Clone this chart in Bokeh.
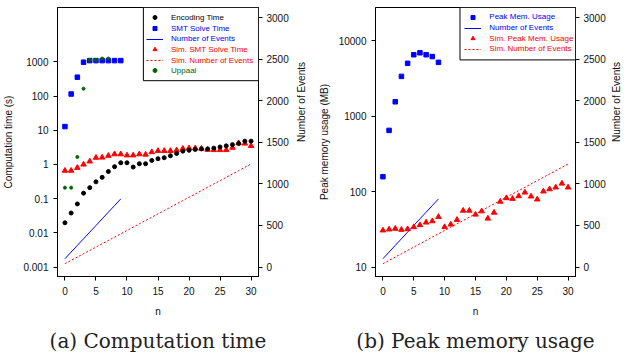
import math
from bokeh.plotting import figure
from bokeh.models import (Range1d, LinearAxis, LinearScale, FixedTicker, PrintfTickFormatter,
                          Legend, LegendItem, BoxAnnotation, Title)
from bokeh.layouts import row
from bokeh.embed import file_html
from bokeh.resources import INLINE

# ---------------- data ----------------
n_all = list(range(31))
n_real = list(range(10))

encoding_time = [0.0197, 0.038, 0.07, 0.145, 0.21, 0.31, 0.42, 0.62, 0.86, 1.12,
                 1.12, 0.84, 1.05, 1.05, 1.31, 1.47, 1.57, 1.8, 2.1, 2.45,
                 2.6, 2.75, 2.85, 2.85, 3.0, 3.25, 3.5, 3.8, 4.1, 4.8, 4.8]
smt_solve_time = [12.8, 115, 357, 980, 1090, 1090, 1090, 1090, 1090, 1090]
num_events = [100, 180, 260, 340, 420, 500, 580, 660, 740, 820]
sim_smt_solve_time = [0.66, 0.66, 0.80, 1.0, 1.23, 1.58, 1.6, 1.8, 2.0, 2.0,
                      1.85, 1.85, 2.0, 1.95, 2.3, 2.5, 2.5, 2.5, 2.6, 2.9,
                      3.0, 3.0, 2.9, 2.7, 2.65, 2.65, 2.65, 3.1, 4.2, 4.1, 3.5]
sim_num_events = [40, 80, 120, 160, 200, 240, 280, 320, 360, 400,
                  440, 480, 520, 560, 600, 640, 680, 720, 760, 800,
                  840, 880, 920, 960, 1000, 1040, 1080, 1120, 1160, 1200, 1240]
uppaal_n = [0, 1, 2, 3, 4, 5, 6, 7]
uppaal_time = [0.21, 0.21, 1.66, 165, 1150, 1150, 1250, 1250]

peak_mem = [158, 648, 1550, 3360, 5000, 6500, 6900, 6500, 6150, 5150]
sim_peak_mem = [30.8, 31.7, 32.4, 31.4, 32.0, 34.1, 36.2, 39.2, 40.8, 46.5,
                34.1, 36.9, 42.5, 56.3, 56.3, 49.9, 55.2, 44.2, 53.0, 74.0,
                82.4, 80.7, 87.5, 97.8, 86.7, 79.2, 101, 108, 114, 128.5, 114]

x_ticks = [0, 5, 10, 15, 20, 25, 30]
time_ticks = [0.001, 0.01, 0.1, 1, 10, 100, 1000]
mem_ticks = [10, 100, 1000, 10000]
event_ticks = [0, 500, 1000, 1500, 2000, 2500, 3000]

SANS = "Liberation Sans"
SERIF = "DejaVu Serif"
GREEN = "darkgreen"

X_RANGE = (-1.2, 31.2)
EV_RANGE = (-114, 3124)
FRAME_H = 272
TOP = 7
BOTTOM = 81


def style_axis(ax):
    ax.axis_line_color = "black"
    ax.major_tick_line_color = "black"
    ax.major_tick_in = 0
    ax.major_tick_out = 4
    ax.minor_tick_line_color = None
    ax.major_label_text_font = SANS
    ax.major_label_text_font_size = "10px"
    ax.major_label_text_color = "#111111"
    ax.axis_label_text_font = SANS
    ax.axis_label_text_font_size = "10px"
    ax.axis_label_text_font_style = "normal"
    ax.axis_label_text_color = "#111111"
    ax.major_label_standoff = 4


def make_fig(width, bl, br, ylog_range, ylabel, yticks, caption, r_standoff):
    p = figure(width=width, height=TOP + FRAME_H + BOTTOM, y_axis_type="log",
               x_range=Range1d(*X_RANGE), y_range=Range1d(*ylog_range),
               output_backend="svg", toolbar_location=None,
               min_border_left=bl, min_border_right=br,
               min_border_top=TOP, min_border_bottom=BOTTOM)
    p.grid.visible = False
    p.outline_line_color = "black"
    p.outline_line_width = 1
    p.background_fill_color = "white"
    p.border_fill_color = "white"
    p.extra_y_ranges = {"ev": Range1d(*EV_RANGE)}
    p.extra_y_scales = {"ev": LinearScale()}
    rax = LinearAxis(y_range_name="ev", axis_label="Number of Events",
                     ticker=FixedTicker(ticks=event_ticks))
    p.add_layout(rax, "right")
    for ax in [p.xaxis[0], p.yaxis[0], rax]:
        style_axis(ax)
    p.xaxis.ticker = FixedTicker(ticks=x_ticks)
    p.xaxis.axis_label = "n"
    p.xaxis.major_label_standoff = 6
    p.xaxis.axis_label_standoff = 8
    p.yaxis[0].ticker = FixedTicker(ticks=yticks)
    p.yaxis[0].formatter = PrintfTickFormatter(format="%g")
    p.yaxis[0].axis_label = ylabel
    p.yaxis[0].major_label_standoff = 5
    p.yaxis[0].axis_label_standoff = 6
    rax.axis_label_standoff = r_standoff
    if "axis_label_orientation" in rax.properties():
        rax.axis_label_orientation = math.pi / 2
    t = Title(text=caption, align="center", text_font=SERIF,
              text_font_size="20px", text_font_style="normal",
              text_color="#222222", standoff=15)
    p.add_layout(t, "below")
    return p


def add_legend(p, entries, ylog_range, frame_w, box_left_px, box_h_px, glyph_x):
    # legend frame box, positioned from pixel offsets inside the plot frame
    x0, x1 = X_RANGE
    lo, hi = math.log10(ylog_range[0]), math.log10(ylog_range[1])
    left = x0 + box_left_px / frame_w * (x1 - x0)
    bottom = 10 ** (hi - box_h_px / FRAME_H * (hi - lo))
    box = BoxAnnotation(left=left, right=x1, bottom=bottom, top=ylog_range[1],
                        fill_color="white", fill_alpha=1.0,
                        line_color="black", line_width=1, line_alpha=1.0)
    p.add_layout(box)
    for label, rends, color, dy in entries:
        lg = Legend(items=[LegendItem(label=label, renderers=rends)],
                    location=(glyph_x, FRAME_H - dy - 5), padding=0, margin=0,
                    spacing=0, glyph_width=17, glyph_height=10, label_height=10,
                    label_standoff=8, border_line_alpha=0,
                    background_fill_alpha=0,
                    label_text_font=SANS, label_text_font_size="8px",
                    label_text_color=color)
        p.add_layout(lg)


# ---------------- panel (a) ----------------
ra = (10 ** -3.277, 10 ** 4.591)
pa = make_fig(315, 55, 54, ra, "Computation time (s)", time_ticks,
              "(a) Computation time", 10)

r_ev = pa.line(n_real, num_events, y_range_name="ev", color="blue", line_width=1)
r_sev = pa.line(n_all, sim_num_events, y_range_name="ev", color="red",
                line_width=1, line_dash="2 2")
r_sim = pa.scatter(n_all, sim_smt_solve_time, marker="triangle", size=5.5,
                   color="red")
r_enc = pa.scatter(n_all, encoding_time, marker="circle", size=4, color="black")
r_smt = pa.scatter(n_real, smt_solve_time, marker="square", size=4.5, color="blue")
r_upp = pa.scatter(uppaal_n, uppaal_time, marker="circle", size=3, color=GREEN)

add_legend(pa, [
    ("Encoding Time", [r_enc], "black", 13.2),
    ("SMT Solve Time", [r_smt], "blue", 24.2),
    ("Number of Events", [r_ev], "blue", 34.5),
    ("Sim. SMT Solve Time", [r_sim], "red", 45.1),
    ("Sim. Number of Events", [r_sev], "red", 56.0),
    ("Uppaal", [r_upp], GREEN, 66.4),
], ra, frame_w=206, box_left_px=88, box_h_px=74, glyph_x=89)

# ---------------- panel (b) ----------------
rb = (10 ** 0.878, 10 ** 4.438)
pb = make_fig(315, 55, 51, rb, "Peak memory usage (MB)", mem_ticks,
              "(b) Peak memory usage", 8)

r_ev2 = pb.line(n_real, num_events, y_range_name="ev", color="blue", line_width=1)
r_sev2 = pb.line(n_all, sim_num_events, y_range_name="ev", color="red",
                 line_width=1, line_dash="2 2")
r_spm = pb.scatter(n_all, sim_peak_mem, marker="triangle", size=5.5, color="red")
r_pm = pb.scatter(n_real, peak_mem, marker="square", size=4.5, color="blue")

add_legend(pb, [
    ("Peak Mem. Usage", [r_pm], "blue", 12.9),
    ("Number of Events", [r_ev2], "blue", 23.5),
    ("Sim. Peak Mem. Usage", [r_spm], "red", 34.2),
    ("Sim. Number of Events", [r_sev2], "red", 44.9),
], rb, frame_w=209, box_left_px=88.3, box_h_px=53, glyph_x=89.3)

layout = row(pa, pb)
open("out.html", "w").write(file_html(layout, INLINE))
